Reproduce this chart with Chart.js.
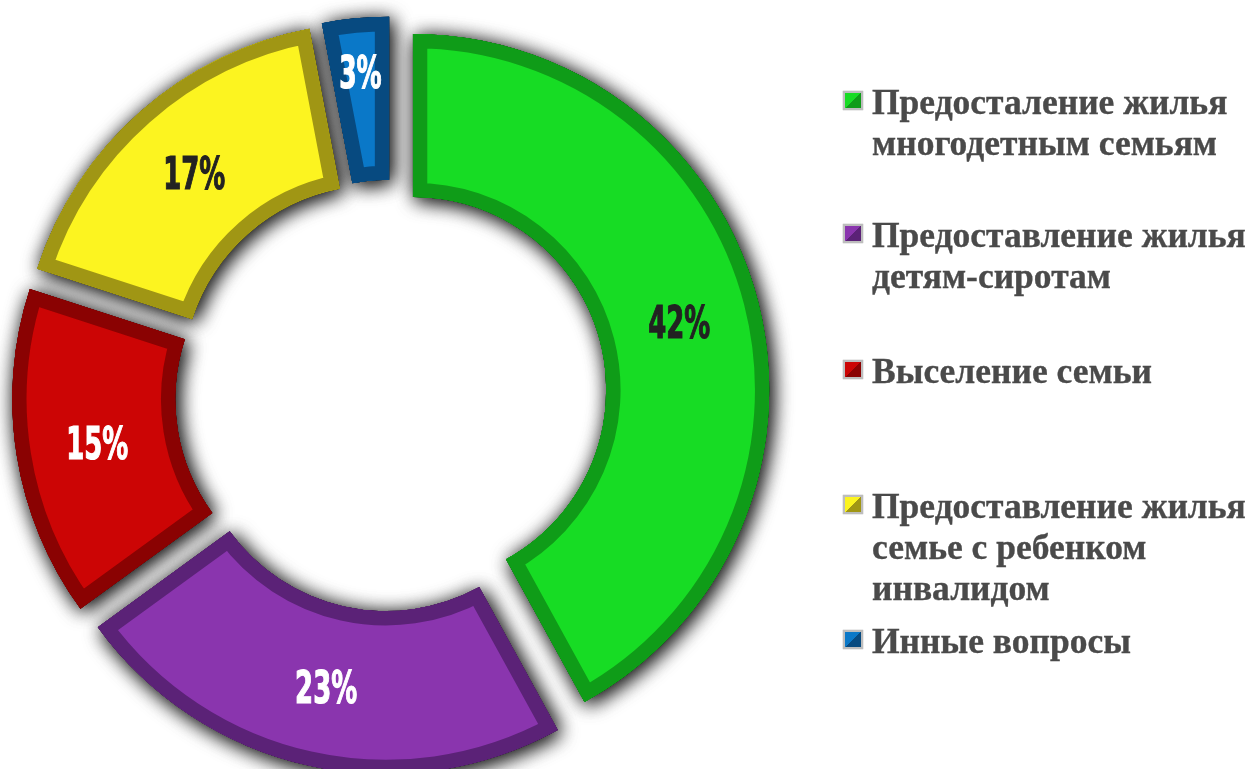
<!DOCTYPE html>
<html>
<head>
<meta charset="utf-8">
<script src="https://cdn.jsdelivr.net/npm/chart.js@4.4.0/dist/chart.umd.min.js"></script>
<style>
  html, body { margin:0; padding:0; background:#ffffff; width:1249px; height:769px; overflow:hidden; }
  #chartCanvas { position:absolute; left:0; top:0; }
  .item { position:absolute; left:843px; font-family:"Liberation Serif","Times New Roman",serif; font-weight:bold; font-size:35.5px; line-height:41px; color:#4a4a4a; white-space:nowrap; -webkit-text-stroke:0.35px #4a4a4a; }
  .sw { position:absolute; left:0; width:16px; height:15px; border:2px solid #bdbdbd; box-shadow: 0 0 1px #888; }
  .txt { position:absolute; left:29px; top:0; }
</style>
</head>
<body>
<canvas id="chartCanvas" width="1249" height="769"></canvas>
<div id="legend"></div>
<script>
// ---- data ----
const categories = [
  ["Предосталение жилья", "многодетным семьям"],
  ["Предоставление жилья", "детям-сиротам"],
  ["Выселение семьи"],
  ["Предоставление жилья", "семье с ребенком", "инвалидом"],
  ["Инные вопросы"]
];
const values = [42, 23, 15, 17, 3];
const valueLabels = ["42%", "23%", "15%", "17%", "3%"];

// ---- styles ----
const faceColors = ["#17dc24", "#8a35ae", "#cc0505", "#fcf420", "#0a78c8"];
const rimColors  = ["#0f9c18", "#5b2277", "#8a0202", "#a09614", "#074a80"];
const labelColors = ["#222222", "#ffffff", "#ffffff", "#222222", "#ffffff"];
const legendFirstBaselines = [113, 245.5, 382, 517, 652];
const DISP = 23; // explode distance in px

// legend (HTML text)
const legendEl = document.getElementById('legend');
categories.forEach((lines, i) => {
  const it = document.createElement('div');
  it.className = 'item';
  it.style.top = (legendFirstBaselines[i] - 31) + 'px';
  const sw = document.createElement('div');
  sw.className = 'sw';
  sw.style.top = '9px';
  sw.style.background = 'linear-gradient(to bottom right, ' + faceColors[i] + ' 50%, ' + rimColors[i] + ' 50%)';
  it.appendChild(sw);
  const tx = document.createElement('div');
  tx.className = 'txt';
  tx.innerHTML = lines.map(s => s.replace(/&/g,'&amp;').replace(/</g,'&lt;')).join('<br>');
  it.appendChild(tx);
  legendEl.appendChild(it);
});

// explode every slice by a fixed distance along its mid angle
const baseArcDraw = Chart.ArcElement.prototype.draw;
Chart.ArcElement.prototype.draw = function (ctx) {
  const mid = (this.startAngle + this.endAngle) / 2;
  ctx.save();
  ctx.translate(Math.cos(mid) * DISP, Math.sin(mid) * DISP);
  baseArcDraw.call(this, ctx);
  ctx.restore();
};

const shadowPlugin = {
  id: 'softShadow',
  beforeDatasetsDraw(chart) {
    const c = chart.ctx;
    const meta = chart.getDatasetMeta(0);
    c.save();
    c.shadowColor = 'rgba(0,0,0,0.75)';
    c.shadowBlur = 20;
    c.shadowOffsetX = 3;
    c.shadowOffsetY = 3;
    for (let k = 0; k < 2; k++) meta.data.forEach(el => el.draw(c));
    c.restore();
  }
};

const labelPlugin = {
  id: 'sliceLabels',
  afterDraw(chart) {
    const c = chart.ctx;
    const meta = chart.getDatasetMeta(0);
    meta.data.forEach((arc, i) => {
      const p = arc.getProps(['x','y','startAngle','endAngle','innerRadius','outerRadius','circumference'], true);
      const mid = (p.startAngle + p.endAngle) / 2;
      const frac = p.circumference < 0.35 ? 0.67 : 0.5;
      const r = p.innerRadius + frac * (p.outerRadius - p.innerRadius);
      const d = DISP + r;
      const x = p.x + Math.cos(mid) * d;
      const y = p.y + Math.sin(mid) * d;
      const text = valueLabels[i];
      c.save();
      c.font = 'bold 45px "DejaVu Sans Condensed", "DejaVu Sans", sans-serif';
      const w = c.measureText(text).width;
      let target = 0;
      for (const ch of text) target += (ch === '%') ? 23 : 19.5;
      const s = target / w;
      c.translate(x, y);
      c.scale(s, 1);
      c.fillStyle = labelColors[i];
      c.strokeStyle = labelColors[i];
      c.lineWidth = 1.2;
      c.textAlign = 'center';
      c.textBaseline = 'alphabetic';
      c.fillText(text, 0, 16.5);
      c.strokeText(text, 0, 16.5);
      c.restore();
    });
  }
};

new Chart(document.getElementById('chartCanvas'), {
  type: 'doughnut',
  data: {
    labels: categories,
    datasets: [{
      data: values,
      backgroundColor: faceColors,
      borderColor: rimColors,
      borderWidth: 14,
      borderAlign: 'inner',
      borderJoinStyle: 'miter',
      offset: 0,
      hoverOffset: 0,
      clip: false
    }]
  },
  options: {
    responsive: false,
    animation: false,
    events: [],
    radius: 356,
    cutout: '54.2%',
    rotation: 0,
    layout: { padding: { left: 0, right: 467, top: 22.4, bottom: 0 } },
    plugins: { legend: { display: false }, tooltip: { enabled: false } }
  },
  plugins: [shadowPlugin, labelPlugin]
});
</script>
</body>
</html>
